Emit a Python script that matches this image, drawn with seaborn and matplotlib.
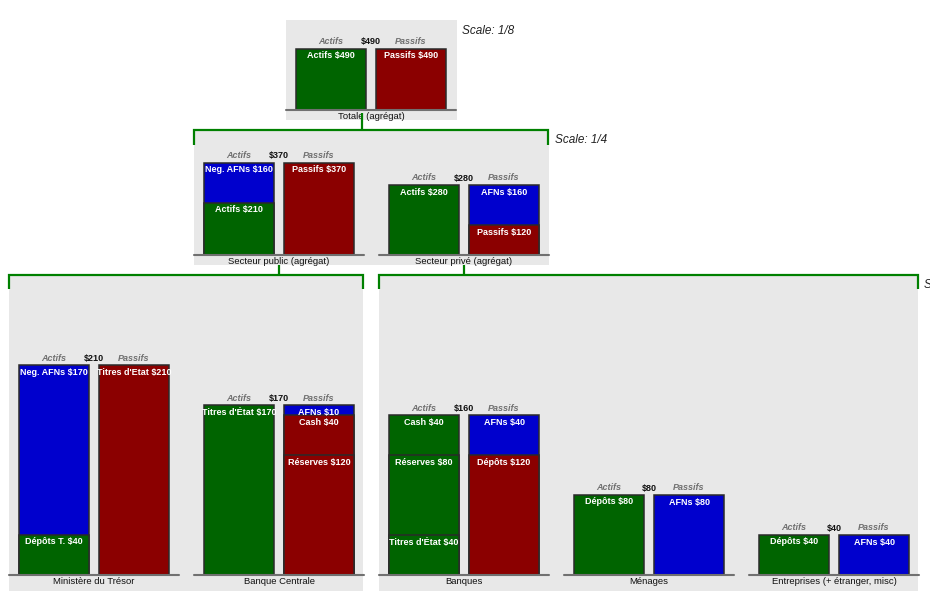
import matplotlib

matplotlib.use("Agg")
import pandas as pd
import seaborn as sns
from matplotlib import pyplot as plt
from matplotlib.lines import Line2D
from matplotlib.patches import Rectangle

# ---- data: each side is listed top to bottom as (label, value, kind) ----
SIDES = ["Actifs", "Passifs"]

totale_actifs = [("Actifs", 490, "actif")]
totale_passifs = [("Passifs", 490, "passif")]

public_actifs = [("Neg. AFNs", 160, "afn"), ("Actifs", 210, "actif")]
public_passifs = [("Passifs", 370, "passif")]

prive_actifs = [("Actifs", 280, "actif")]
prive_passifs = [("AFNs", 160, "afn"), ("Passifs", 120, "passif")]

tresor_actifs = [("Neg. AFNs", 170, "afn"), ("Dépôts T.", 40, "actif")]
tresor_passifs = [("Titres d'Etat", 210, "passif")]

bc_actifs = [("Titres d'État", 170, "actif")]
bc_passifs = [("AFNs", 10, "afn"), ("Cash", 40, "passif"), ("Réserves", 120, "passif")]

banques_actifs = [("Cash", 40, "actif"), ("Réserves", 80, "actif"), ("Titres d'État", 40, "actif")]
banques_passifs = [("AFNs", 40, "afn"), ("Dépôts", 120, "passif")]

menages_actifs = [("Dépôts", 80, "actif")]
menages_passifs = [("AFNs", 80, "afn")]

entreprises_actifs = [("Dépôts", 40, "actif")]
entreprises_passifs = [("AFNs", 40, "afn")]

sheet_names = [
    "Totale (agrégat)",
    "Secteur public (agrégat)",
    "Secteur privé (agrégat)",
    "Ministère du Trésor",
    "Banque Centrale",
    "Banques",
    "Ménages",
    "Entreprises (+ étranger, misc)",
]
sheet_scales = [8, 4, 4, 1, 1, 1, 1, 1]
sheet_sides = [
    (totale_actifs, totale_passifs),
    (public_actifs, public_passifs),
    (prive_actifs, prive_passifs),
    (tresor_actifs, tresor_passifs),
    (bc_actifs, bc_passifs),
    (banques_actifs, banques_passifs),
    (menages_actifs, menages_passifs),
    (entreprises_actifs, entreprises_passifs),
]

KIND_COLORS = {"actif": "#006400", "passif": "#8b0000", "afn": "#0000cd"}

# ---- layout (pixels, origin top-left) ----
W, H = 930, 604
PANEL_W = 170
# (left, top of axes, baseline)
sheet_boxes = [
    (286, 20, 110),
    (194, 131, 255),
    (379, 131, 255),
    (9, 276, 575),
    (194, 276, 575),
    (379, 276, 575),
    (564, 276, 575),
    (749, 276, 575),
]
BG = "#e8e8e8"
LINK = "#008000"

sns.set_theme(style="white")
plt.rcParams["font.family"] = ["Liberation Sans", "DejaVu Sans"]

fig = plt.figure(figsize=(W / 100, H / 100), dpi=100)


def frac_rect(x0, y0, x1, y1):
    return [x0 / W, 1 - y1 / H, (x1 - x0) / W, (y1 - y0) / H]


def fig_line(xs, ys):
    fig.add_artist(Line2D([x / W for x in xs], [1 - y / H for y in ys],
                          transform=fig.transFigure, color=LINK, lw=1.6,
                          solid_capstyle="butt", solid_joinstyle="miter"))


# grey group backgrounds
for x0, y0, x1, y1 in [(286, 20, 457, 120), (194, 131, 549, 265),
                       (9, 276, 363, 591), (379, 276, 918, 591)]:
    fig.add_artist(Rectangle((x0 / W, 1 - y1 / H), (x1 - x0) / W, (y1 - y0) / H,
                             transform=fig.transFigure, facecolor=BG,
                             edgecolor="none", zorder=-1))

# tree connectors
fig_line([362, 362], [113, 130])
fig_line([194, 194, 548, 548], [145, 130, 130, 145])
fig_line([279, 279], [265, 275])
fig_line([9, 9, 363, 363], [289, 275, 275, 289])
fig_line([464, 464], [265, 275])
fig_line([379, 379, 918, 918], [289, 275, 275, 289])

for name, scale, (actifs, passifs), (left, top, base) in zip(
        sheet_names, sheet_scales, sheet_sides, sheet_boxes):
    ax = fig.add_axes(frac_rect(left, top, left + PANEL_W, base))

    rows = []
    for side, segs in zip(SIDES, (actifs, passifs)):
        level = 0
        for i, (label, value, kind) in reversed(list(enumerate(segs))):
            level += value
            rows.append({"side": side, "key": f"{side}{i}", "top": level,
                         "label": f"{label} ${value}", "color": KIND_COLORS[kind]})
    df = pd.DataFrame(rows)
    hue_order = list(df.sort_values("top", ascending=False)["key"])

    sns.barplot(data=df, x="side", y="top", hue="key", hue_order=hue_order,
                order=SIDES, palette=dict(zip(df["key"], df["color"])),
                dodge=False, width=0.875, saturation=1, errorbar=None,
                edgecolor="#2a2a2a", linewidth=1.1, legend=False, ax=ax)

    ax.set_xlim(-0.5625, 1.5625)
    ax.set_ylim(0, (base - top) * scale)
    ax.set_axis_off()
    ax.axhline(0, color="#707070", lw=1.5, clip_on=False)

    for _, r in df.iterrows():
        ax.annotate(r["label"], xy=(SIDES.index(r["side"]), r["top"]),
                    xytext=(0, -7), textcoords="offset pixels",
                    ha="center", va="center", color="white",
                    fontsize=6.5, fontweight="bold", annotation_clip=False)

    total = sum(v for _, v, _ in actifs)
    for xpos, txt in [(0, "Actifs"), (1, "Passifs")]:
        ax.annotate(txt, xy=(xpos, total), xytext=(0, 7),
                    textcoords="offset pixels", ha="center", va="center",
                    color="#707070", fontsize=6.5, fontweight="bold",
                    fontstyle="italic", annotation_clip=False)
    ax.annotate(f"${total}", xy=(0.5, total), xytext=(0, 7),
                textcoords="offset pixels", ha="center", va="center",
                color="#111111", fontsize=6.5, fontweight="bold",
                annotation_clip=False)
    ax.annotate(name, xy=(0.5, 0), xycoords="axes fraction", xytext=(0, -6.5),
                textcoords="offset pixels", ha="center", va="center",
                color="#111111", fontsize=6.8, annotation_clip=False)

for x, y, txt in [(462, 31, "Scale: 1/8"), (555, 140, "Scale: 1/4"),
                  (924, 285, "Scale: 1/1")]:
    fig.text(x / W, 1 - y / H, txt, ha="left", va="center", fontsize=8.5,
             fontstyle="italic", color="#222222")

fig.savefig("out.png", dpi=100)
plt.close(fig)
